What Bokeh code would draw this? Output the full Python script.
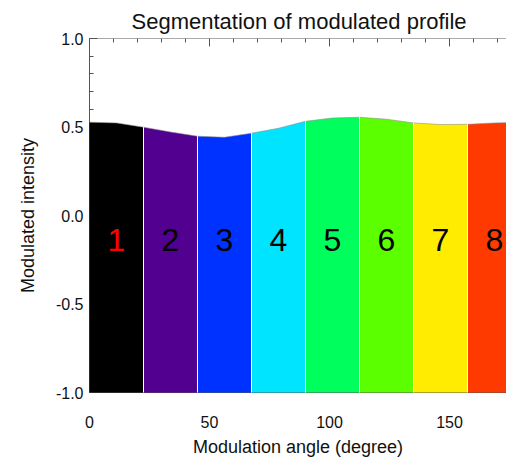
from bokeh.plotting import figure
from bokeh.models import Range1d, FixedTicker, PrintfTickFormatter, Title, Span
from bokeh.core.properties import value
from bokeh.embed import file_html
from bokeh.resources import INLINE

# ---- data ----
angles = [0, 11.25, 22.5, 33.75, 45, 56.25, 67.5, 78.75, 90,
          101.25, 112.5, 123.75, 135, 146.25, 157.5, 168.75, 180]
intensity = [0.527, 0.523, 0.499, 0.472, 0.448, 0.442, 0.465, 0.493, 0.532,
             0.551, 0.555, 0.544, 0.523, 0.514, 0.515, 0.523, 0.527]
segment_labels = ["1", "2", "3", "4", "5", "6", "7", "8"]
segment_colors = ["#000000", "#52008f", "#0032ff", "#00e4ff",
                  "#00ff5c", "#5cff00", "#ffec00", "#ff3a00"]
label_colors = ["#ff0000", "#000000", "#000000", "#000000",
                "#000000", "#000000", "#000000", "#000000"]
x_ticks = [0, 50, 100, 150]
x_minor = [v for v in range(0, 181, 10)]
y_ticks = [-1.0, -0.5, 0.0, 0.5, 1.0]
y_minor = [round(-1.0 + 0.1 * i, 1) for i in range(21)]

# ---- layout constants ----
X_START, X_END = 0, 173.75
Y_BASE, Y_TOP = -1.0, 1.0
LABEL_Y = -0.14
FRAME_H_PX = 355
n_seg = len(segment_labels)
seg_w = 180.0 / n_seg
FONT = "Liberation Sans"
px_y = (Y_TOP - Y_BASE) / FRAME_H_PX

p = figure(width=506, height=459,
           x_range=Range1d(X_START, X_END), y_range=Range1d(Y_BASE, Y_TOP),
           output_backend="svg", toolbar_location=None,
           min_border_left=89, min_border_right=0, min_border_top=38,
           min_border_bottom=66,
           x_axis_label="Modulation angle (degree)",
           y_axis_label="Modulated intensity")
p.title = None
p.add_layout(Title(text="Segmentation of modulated profile", align="left",
                   offset=42, text_font=FONT, text_font_size="22px",
                   text_font_style="normal", text_color="#111111",
                   standoff=10), "above")
p.outline_line_color = None
p.xgrid.visible = False
p.ygrid.visible = False
p.background_fill_color = "white"
p.border_fill_color = "white"

axis_color = "#555555"

# top axis line and inward ticks
p.add_layout(Span(location=Y_TOP, dimension="width", line_color=axis_color,
                  line_width=1))
p.segment(x0=x_minor, y0=[Y_TOP] * len(x_minor), x1=x_minor,
          y1=[Y_TOP - 4 * px_y] * len(x_minor), line_color=axis_color, line_width=1)
p.segment(x0=x_ticks, y0=[Y_TOP] * len(x_ticks), x1=x_ticks,
          y1=[Y_TOP - 8 * px_y] * len(x_ticks), line_color=axis_color, line_width=1)

# filled segments
for k in range(n_seg):
    xs = angles[2 * k:2 * k + 3]
    ys = intensity[2 * k:2 * k + 3]
    r = p.varea(x=xs, y1=[Y_BASE] * len(xs), y2=ys,
                fill_color=segment_colors[k])
    r.level = "overlay"

# profile edge
r = p.line(angles, intensity, line_color="#888888", line_width=0.8, line_alpha=0.7)
r.level = "overlay"

# white separators
for k in range(1, n_seg):
    b = k * seg_w
    yv = intensity[angles.index(b)]
    r = p.segment(x0=[b], y0=[Y_BASE], x1=[b], y1=[yv],
                  line_color="white", line_width=1)
    r.level = "overlay"

# segment numbers
centers = [(k + 0.5) * seg_w for k in range(n_seg)]
r = p.text(x=centers, y=[LABEL_Y] * n_seg, text=segment_labels,
           text_color=label_colors, text_font=value(FONT),
           text_font_size="32px", text_align="center", text_baseline="middle")
r.level = "overlay"

# bottom axis
xa = p.xaxis[0]
xa.ticker = FixedTicker(ticks=x_ticks, minor_ticks=x_minor)
xa.major_tick_out = 0
xa.major_tick_in = 0
xa.minor_tick_out = 0
xa.minor_tick_in = 0
xa.axis_line_color = axis_color
xa.major_label_standoff = 23
xa.major_label_text_font = FONT
xa.major_label_text_font_size = "16px"
xa.major_label_text_color = "#111111"
xa.axis_label_text_font = FONT
xa.axis_label_text_font_size = "18px"
xa.axis_label_text_font_style = "normal"
xa.axis_label_text_color = "#111111"
xa.axis_label_standoff = 6

# left axis
ya = p.yaxis[0]
ya.ticker = FixedTicker(ticks=y_ticks, minor_ticks=y_minor)
ya.formatter = PrintfTickFormatter(format="%.1f")
ya.major_tick_out = 0
ya.major_tick_in = 8
ya.minor_tick_out = 0
ya.minor_tick_in = 4
ya.major_tick_line_color = axis_color
ya.minor_tick_line_color = axis_color
ya.axis_line_color = axis_color
ya.major_label_standoff = 6
ya.major_label_text_font = FONT
ya.major_label_text_font_size = "16px"
ya.major_label_text_color = "#111111"
ya.axis_label_text_font = FONT
ya.axis_label_text_font_size = "18px"
ya.axis_label_text_font_style = "normal"
ya.axis_label_text_color = "#111111"
ya.axis_label_standoff = 15

open("out.html", "w").write(file_html(p, INLINE))
